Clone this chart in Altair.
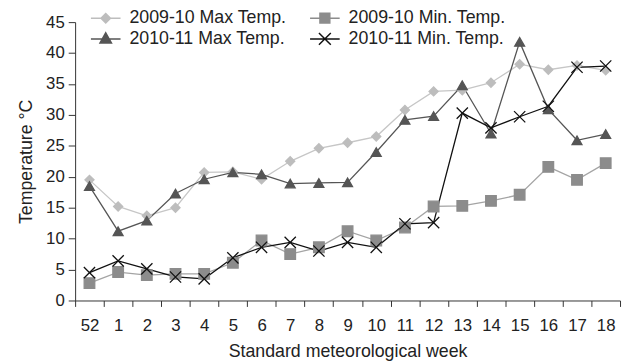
import altair as alt
import pandas as pd

weeks = ["52", "1", "2", "3", "4", "5", "6", "7", "8", "9", "10", "11", "12", "13", "14", "15", "16", "17", "18"]
max_0910 = [19.5, 15.2, 13.7, 15.0, 20.7, 20.8, 19.6, 22.5, 24.6, 25.5, 26.5, 30.8, 33.8, 34.0, 35.2, 38.2, 37.3, 38.0, 37.2]
max_1011 = [18.5, 11.2, 12.9, 17.3, 19.6, 20.7, 20.4, 18.9, 19.0, 19.1, 24.0, 29.2, 29.8, 34.8, 27.0, 41.8, 30.9, 25.9, 26.9]
min_0910 = [2.8, 4.6, 4.1, 4.3, 4.3, 6.1, 9.7, 7.5, 8.6, 11.2, 9.7, 11.8, 15.2, 15.3, 16.1, 17.1, 21.6, 19.5, 22.2]
min_1011 = [4.5, 6.4, 5.1, 3.8, 3.5, 6.9, 8.6, 9.4, 8.0, 9.4, 8.6, 12.4, 12.6, 30.3, 27.9, 29.7, 31.4, 37.7, 37.9]

# order chosen so the 2-column legend reads like the reference
series = ["2009-10 Max Temp.", "2010-11 Max Temp.", "2009-10 Min. Temp.", "2010-11 Min. Temp."]
values = [max_0910, max_1011, min_0910, min_1011]
line_colors = ["#c6c6c6", "#555555", "#a4a4a4", "#111111"]
marker_colors = ["#bdbdbd", "#555555", "#8c8c8c", "#111111"]
fill_colors = ["#bdbdbd", "#555555", "#8c8c8c", "transparent"]
marker_shapes = ["diamond", "triangle-up", "square", "M-1,-1L1,1M-1,1L1,-1"]
marker_sizes = [85, 130, 120, 130]
legend_shapes = [
    "M-1.5,0L1.5,0M0,-0.48L0.48,0L0,0.48L-0.48,0Z",
    "M-1.5,0L1.5,0M0,-0.62L0.58,0.42L-0.58,0.42Z",
    "M-1.5,0L1.5,0M-0.5,-0.5L0.5,-0.5L0.5,0.5L-0.5,0.5Z",
    "M-1.5,0L1.5,0M-0.6,-0.6L0.6,0.6M-0.6,0.6L0.6,-0.6",
]

rows = []
for s, vals in zip(series, values):
    for w, v in zip(weeks, vals):
        rows.append({"week": w, "series": s, "temp": v})
df = pd.DataFrame(rows)

FONT = "Liberation Sans, Arial, sans-serif"

x = alt.X("week:N", sort=weeks, bandPosition=0.5,
          scale=alt.Scale(type="band", paddingInner=0, paddingOuter=0),
          axis=alt.Axis(title="Standard meteorological week", tickBand="extent", labelAngle=0,
                        tickSize=6, labelPadding=11, titlePadding=10, grid=False))
y = alt.Y("temp:Q", scale=alt.Scale(domain=[0, 45], nice=False),
          axis=alt.Axis(title="Temperature °C", values=list(range(0, 46, 5)), tickSize=7,
                        labelPadding=4, titlePadding=10, grid=False))

base = alt.Chart(df)

lines = base.mark_line(strokeWidth=1.3).encode(
    x=x, y=y,
    stroke=alt.Stroke("series:N", scale=alt.Scale(domain=series, range=line_colors), legend=None),
    detail="series:N",
)

points = base.mark_point(opacity=1, strokeWidth=1.3, fillOpacity=1).encode(
    x=x, y=y,
    fill=alt.Fill("series:N", scale=alt.Scale(domain=series, range=fill_colors), legend=None),
    stroke=alt.Stroke("series:N", scale=alt.Scale(domain=series, range=marker_colors), legend=None),
    shape=alt.Shape("series:N", scale=alt.Scale(domain=series, range=marker_shapes), legend=None),
    size=alt.Size("series:N", scale=alt.Scale(domain=series, range=marker_sizes), legend=None),
)

legend_layer = base.transform_filter("false").mark_point(opacity=1, strokeWidth=1.5, fillOpacity=1).encode(
    x=x, y=y,
    fill=alt.Fill("series:N", scale=alt.Scale(domain=series, range=marker_colors), legend=alt.Legend(
        title=None, orient="none", legendX=20, legendY=-15, columns=2, columnPadding=20,
        symbolSize=400, labelOffset=13, rowPadding=1, padding=0, labelFontSize=18, labelLimit=400,
        labelFont=FONT, labelColor="#222222", symbolStrokeWidth=1.5, symbolOpacity=1)),
    stroke=alt.Stroke("series:N", scale=alt.Scale(domain=series, range=marker_colors)),
    shape=alt.Shape("series:N", scale=alt.Scale(domain=series, range=legend_shapes)),
)

chart = alt.layer(lines, points, legend_layer).resolve_scale(
    shape="independent", stroke="independent", fill="independent", size="independent"
).properties(
    width=552, height=282,
    autosize=alt.AutoSizeParams(type="none"),
    padding={"left": 68, "top": 12, "right": 2, "bottom": 60},
).configure_axis(
    labelFont=FONT, titleFont=FONT, labelFontSize=17, titleFontSize=18,
    labelColor="#222222", titleColor="#222222", titleFontWeight="normal",
    domainColor="#333333", tickColor="#333333",
).configure_view(stroke=None)

chart.save("out.html", embed_options={"renderer": "svg", "actions": False})
